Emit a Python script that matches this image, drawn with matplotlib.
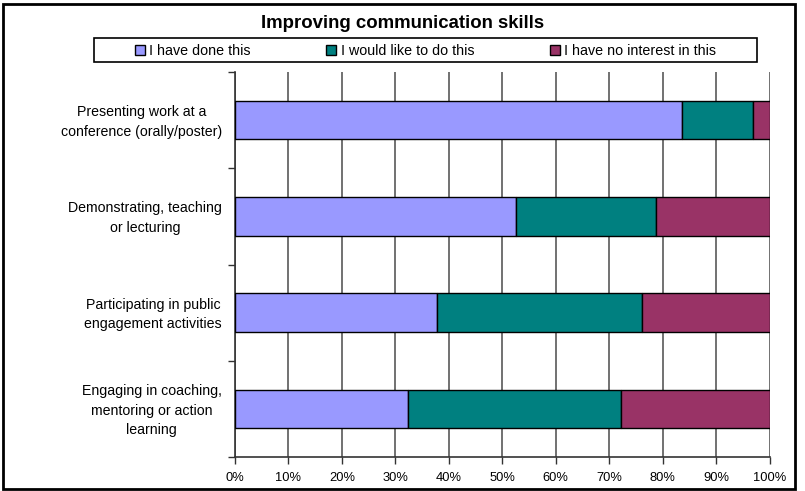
import matplotlib
matplotlib.use("Agg")
import matplotlib.pyplot as plt
from matplotlib.patches import Rectangle
import numpy as np

plt.rcParams['font.family'] = ['Liberation Sans', 'DejaVu Sans']

activities = [
    "Presenting work at a\nconference (orally/poster)",
    "Demonstrating, teaching\nor lecturing",
    "Participating in public\nengagement activities",
    "Engaging in coaching,\nmentoring or action\nlearning",
]
done = [83.6, 52.5, 37.7, 32.3]
would_like = [13.3, 26.2, 38.5, 40.0]
no_interest = [3.1, 21.3, 23.8, 27.7]

series = ["I have done this", "I would like to do this", "I have no interest in this"]
colors = ["#9999FF", "#008080", "#993366"]

W, H = 805, 491
fig = plt.figure(figsize=(W / 100, H / 100), dpi=100)
ax = fig.add_axes([235 / W, 1 - 457 / H, (769.5 - 235) / W, (457 - 72) / H])

y = np.arange(len(activities))
left = np.zeros(len(activities))
for vals, lab, col in zip([done, would_like, no_interest], series, colors):
    ax.barh(y, vals, left=left, height=0.4, color=col, edgecolor="black",
            linewidth=1, label=lab, zorder=3)
    left += np.array(vals)

ax.set_xlim(0, 100)
ax.set_ylim(len(activities) - 0.5, -0.5)
ax.set_xticks(np.arange(0, 101, 10))
ax.set_xticklabels([f"{v}%" for v in range(0, 101, 10)], fontsize=9.3)
ax.set_yticks(y - 0.025)
ax.set_yticklabels(activities, fontsize=10.2, ha="right", multialignment="center",
                   linespacing=1.5)
ax.tick_params(axis="y", which="major", length=0, pad=9.5)
ax.set_yticks(np.arange(-0.5, len(activities)), minor=True)
ax.tick_params(axis="y", which="minor", length=5, width=1, color="#333333")
ax.tick_params(axis="x", length=5, width=1, color="#333333", pad=6)

ax.grid(axis="x", color="#666666", linewidth=1.3, zorder=0)
ax.set_axisbelow(True)
for s in ["top", "right"]:
    ax.spines[s].set_visible(False)
for s in ["left", "bottom"]:
    ax.spines[s].set_color("#333333")
    ax.spines[s].set_linewidth(1.2)

fig.text(0.5, 1 - 23 / H, "Improving communication skills", ha="center",
         va="center", fontsize=13.4, fontweight="bold")

# legend box drawn separately so the entries keep their natural spacing
fig.patches.append(Rectangle((94 / W, 1 - 62 / H), (757 - 94) / W, 24 / H,
                             transform=fig.transFigure, fill=False,
                             edgecolor="black", linewidth=1.2))
handles, labels = ax.get_legend_handles_labels()
fig.legend(handles, labels, ncol=3, loc="center",
           bbox_to_anchor=((94 + 757) / 2 / W, 1 - 51 / H),
           fontsize=10.3, frameon=False,
           handlelength=0.7, handleheight=0.7, handletextpad=0.3,
           columnspacing=5.3, borderpad=0, borderaxespad=0)

fig.patches.append(Rectangle((3 / W, 1 - 489 / H), 792 / W, 485 / H,
                             transform=fig.transFigure, fill=False,
                             edgecolor="black", linewidth=2))

fig.savefig("out.png", dpi=100)
